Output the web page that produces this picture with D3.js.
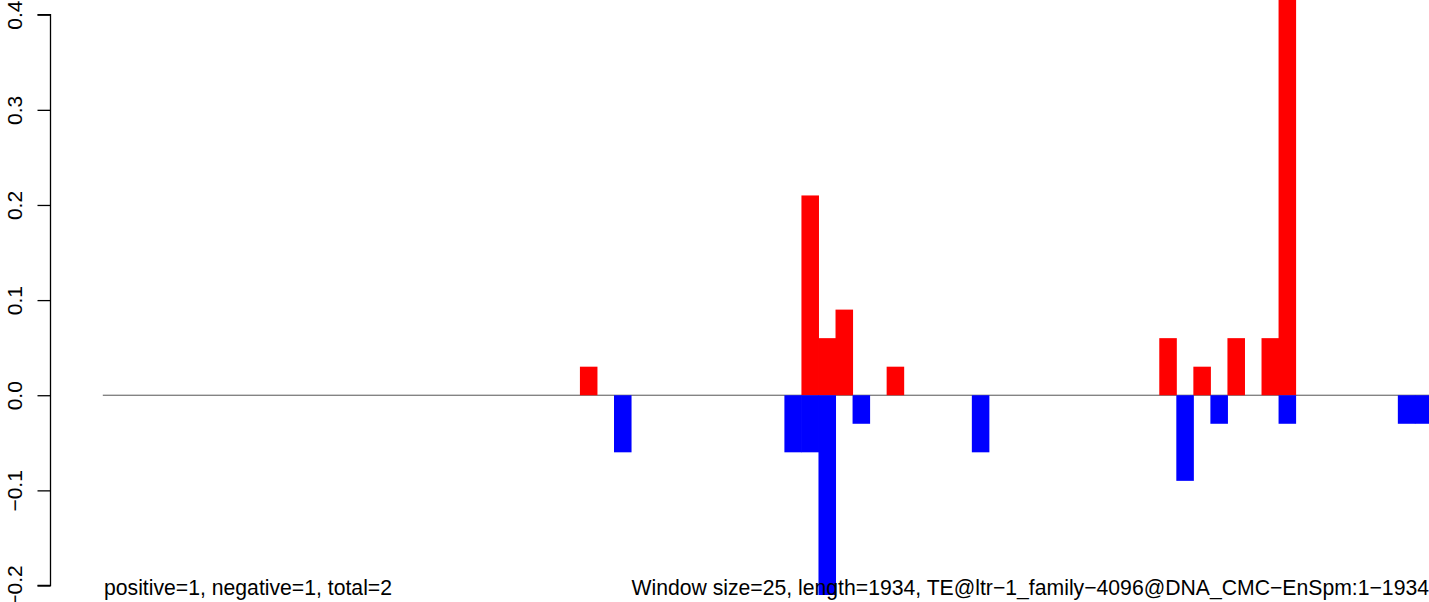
<!DOCTYPE html>
<html>
<head>
<meta charset="utf-8">
<script src="https://cdn.jsdelivr.net/npm/d3@7/dist/d3.min.js"></script>
<style>
  html, body { margin: 0; padding: 0; background: #fff; }
  svg { display: block; }
  text { font-family: "Liberation Sans", Arial, Helvetica, sans-serif; fill: #000; }
</style>
</head>
<body>
<svg id="chart" width="1429" height="602"></svg>
<script>
// ---- data ----
const nWindows = 78; // window index 0..77 (size 25, length 1934)
const posIndex = [28, 41, 42, 43, 46, 62, 64, 66, 68, 69];
const posValue = [0.03, 0.21, 0.06, 0.09, 0.03, 0.06, 0.03, 0.06, 0.06, 0.45];
const negIndex = [30, 40, 41, 42, 44, 51, 63, 65, 69, 76, 77];
const negValue = [-0.06, -0.06, -0.06, -0.21, -0.03, -0.06, -0.09, -0.03, -0.03, -0.03, -0.03];
const yTicks = [-0.2, -0.1, 0.0, 0.1, 0.2, 0.3, 0.4];
const yTickLabels = ["\u22120.2", "\u22120.1", "0.0", "0.1", "0.2", "0.3", "0.4"];
const leftLabel = "positive=1, negative=1, total=2";
const rightLabel = "Window size=25, length=1934, TE@ltr\u22121_family\u22124096@DNA_CMC\u2212EnSpm:1\u22121934";

// ---- layout ----
const W = 1429, H = 602;
const svg = d3.select("#chart");
const x = d3.scaleLinear().domain([0, nWindows]).range([102.8, 102.8 + nWindows * 17.04]);
const y = d3.scaleLinear().domain([-0.2, 0.4]).range([585.5, 14.7]);

svg.append("clipPath").attr("id", "plotclip")
  .append("rect").attr("x", 51).attr("y", 0).attr("width", W).attr("height", 597);

const g = svg.append("g").attr("clip-path", "url(#plotclip)");

// zero line
g.append("line")
  .attr("x1", x(0)).attr("x2", W + 5)
  .attr("y1", y(0)).attr("y2", y(0))
  .attr("stroke", "#555").attr("stroke-width", 1);

const pos = posIndex.map((d, i) => ({ i: d, v: posValue[i] }));
const neg = negIndex.map((d, i) => ({ i: d, v: negValue[i] }));

g.selectAll("rect.pos").data(pos).join("rect")
  .attr("class", "pos")
  .attr("x", d => x(d.i)).attr("width", d => x(d.i + 1) - x(d.i) + 0.5)
  .attr("y", d => y(d.v)).attr("height", d => y(0) - y(d.v))
  .attr("fill", "#ff0000");

g.selectAll("rect.neg").data(neg).join("rect")
  .attr("class", "neg")
  .attr("x", d => x(d.i)).attr("width", d => x(d.i + 1) - x(d.i) + 0.5)
  .attr("y", y(0)).attr("height", d => y(d.v) - y(0))
  .attr("fill", "#0000ff");

// y axis
const axisX = 50.5;
const ax = svg.append("g").attr("transform", `translate(${axisX},0)`)
  .call(d3.axisLeft(y).tickValues(yTicks).tickSize(13).tickPadding(0).tickFormat((d, i) => yTickLabels[i]));
ax.select(".domain").attr("d", `M-13,${y(0.4)}H0V${y(-0.2)}H-13`).attr("stroke", "#000").attr("stroke-width", 1.3).attr("fill", "none");
ax.selectAll(".tick line").attr("stroke", "#000").attr("stroke-width", 1.3);
ax.selectAll(".tick text")
  .attr("x", 0).attr("dy", 0)
  .attr("transform", "translate(-36,0) rotate(-90)")
  .attr("text-anchor", "middle")
  .attr("dominant-baseline", "central")
  .style("font-family", '"Liberation Sans", Arial, sans-serif')
  .style("font-size", "21px").attr("fill", "#000");

// bottom labels
svg.append("text").attr("x", 104).attr("y", 595)
  .style("font-size", "21.2px").text(leftLabel);
svg.append("text").attr("x", 1429).attr("y", 595)
  .attr("text-anchor", "end")
  .style("font-size", "21.2px").text(rightLabel);
</script>
</body>
</html>
